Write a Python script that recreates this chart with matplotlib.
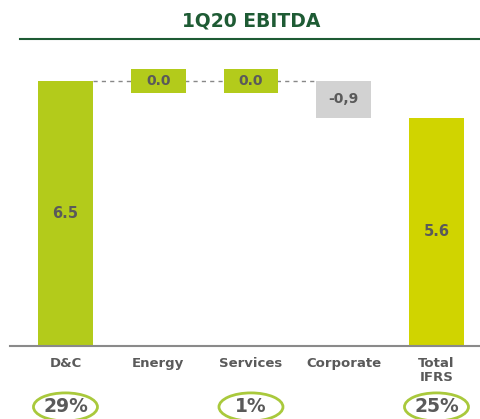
import matplotlib.pyplot as plt
import matplotlib.transforms as mtransforms
from matplotlib.patches import Ellipse
from matplotlib.lines import Line2D

# data
categories = ["D&C", "Energy", "Services", "Corporate", "Total\nIFRS"]
values = [6.5, 0.0, 0.0, -0.9, 5.6]
value_labels = ["6.5", "0.0", "0.0", "-0,9", "5.6"]
kinds = ["total", "delta", "delta", "delta", "total"]
pct_labels = ["29%", "", "1%", "", "25%"]

plt.rcParams['font.family'] = ['DejaVu Sans']

W, H = 481, 419
fig = plt.figure(figsize=(W / 100, H / 100), dpi=100)
# axes: x 10..481 px, y 60..346 px (from top)
ax = fig.add_axes([10 / W, (H - 346) / H, 471 / W, 286 / H])

green = "#b3cb1b"
total_green = "#d0d400"
grey_box = "#d2d2d2"
text_col = "#5a5a5a"
zero_h = 0.6   # height of the box drawn for zero changes

x = list(range(len(categories)))
running = 0.0
for i, (v, k) in enumerate(zip(values, kinds)):
    if k == "total":
        ax.bar(i, v, width=0.59, color=green if i == 0 else total_green, zorder=2)
        ax.text(i, v * 0.5, value_labels[i], ha="center", va="center",
                fontsize=10.5, fontweight="bold", color=text_col, zorder=3)
        running = v
    else:
        if v == 0:
            bottom, h, c = running - zero_h / 2, zero_h, green
        else:
            bottom, h, c = running + min(v, 0), abs(v), grey_box
        ax.bar(i, h, bottom=bottom, width=0.59, color=c, zorder=2)
        ax.text(i, bottom + h / 2, value_labels[i], ha="center", va="center",
                fontsize=10, fontweight="bold", color=text_col, zorder=3)
        running += v

# dashed connector at the D&C level
ax.plot([0 + 0.295, 3 - 0.295], [values[0], values[0]], ls=(0, (3, 3)),
        color="#888888", lw=1, zorder=1)

ax.set_xlim(-0.598, 4.48)
ax.set_ylim(0, 7.01)
ax.set_xticks(x)
ax.set_xticklabels(categories, fontsize=9.5, fontweight="bold", color=text_col,
                   linespacing=1.05)
ax.tick_params(axis="x", length=0, pad=8)
ax.set_yticks([])
for s in ["top", "left", "right"]:
    ax.spines[s].set_visible(False)
ax.spines["bottom"].set_color("#8a8a8a")
ax.spines["bottom"].set_linewidth(1.5)

# percentages in ellipses
tr = mtransforms.blended_transform_factory(ax.transData, ax.transAxes)
for i, p in enumerate(pct_labels):
    if not p:
        continue
    ax.add_patch(Ellipse((i, -0.213), 0.69, 0.098, transform=tr, fill=False,
                         ec="#a9c93c", lw=2, clip_on=False))
    ax.text(i, -0.213, p, transform=tr, ha="center", va="center", fontsize=13.5,
            fontweight="bold", color=text_col, clip_on=False)

# title and rule
fig.text(251 / W, 1 - 21 / H, "1Q20 EBITDA", ha="center", va="center",
         fontsize=13.5, fontweight="bold", color="#1e5b34")
fig.add_artist(Line2D([20 / W, 1], [1 - 39 / H, 1 - 39 / H], color="#1e5b34", lw=1.5))

fig.savefig("out.png", dpi=100)
